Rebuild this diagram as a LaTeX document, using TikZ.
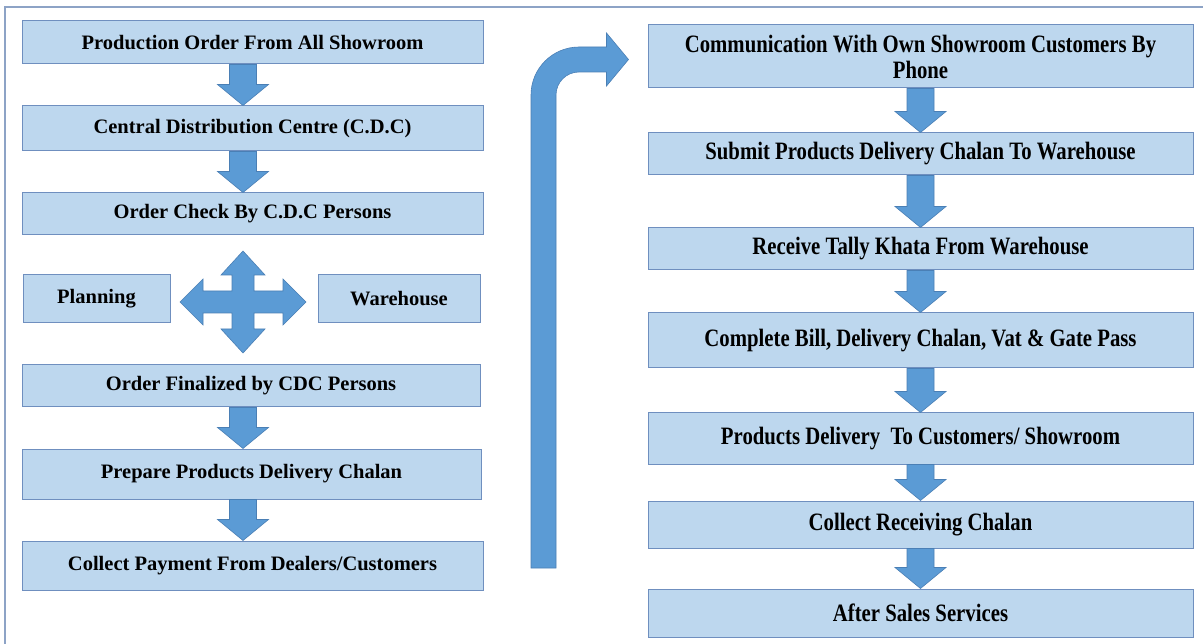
\documentclass[tikz,border=0pt]{standalone}
\usepackage{fontspec}
\setmainfont{Liberation Serif}
\newfontfamily\narrowserif[FakeStretch=0.83]{Liberation Serif}
\usetikzlibrary{calc,positioning}
\definecolor{boxfill}{HTML}{BDD7EE}
\definecolor{boxline}{HTML}{6F8FBF}
\definecolor{arrowfill}{HTML}{5B9BD5}
\definecolor{arrowline}{HTML}{4A7FB5}
\definecolor{framecol}{HTML}{8DA3C6}
\newcommand{\leftfont}{\fontsize{20.5}{24}\selectfont\bfseries}
\newcommand{\rightfont}{\narrowserif\fontsize{25}{26}\selectfont\bfseries}
% block arrow pointing down from #1 to #2
\newcommand{\downblock}[2]{%
  \path[blockarr] let \p1=(#1), \p2=(#2) in
    ({\x1-13.5pt},\y1) -- ({\x1+13.5pt},\y1) -- ({\x1+13.5pt},{\y2+21pt})
    -- ({\x1+25.5pt},{\y2+21pt}) -- (\x1,\y2) -- ({\x1-25.5pt},{\y2+21pt})
    -- ({\x1-13.5pt},{\y2+21pt}) -- cycle;}

\begin{document}
\begin{tikzpicture}[x=1pt,y=-1pt]
  \path[use as bounding box,fill=white] (0,0) rectangle (1203,644);
  \tikzset{
    leftbox/.style={draw=boxline,fill=boxfill,line width=1pt,inner sep=0pt,align=center,font=\leftfont},
    rightbox/.style={draw=boxline,fill=boxfill,line width=1pt,inner sep=0pt,align=center,font=\rightfont,minimum width=545pt},
    blockarr/.style={fill=arrowfill,draw=arrowline,line width=0.6pt,line join=miter}
  }
  % frame
  \draw[framecol,line width=1.5pt] (5,644) -- (5,7) -- (1203,7);

  % left column
  \node[leftbox,minimum width=461pt,minimum height=43pt] (prodorder) at (252.5,42.5) {Production Order From All Showroom};
  \node[leftbox,minimum width=461pt,minimum height=45pt] (cdc) at (252.5,128.5) {Central Distribution Centre (C.D.C)};
  \node[leftbox,minimum width=461pt,minimum height=42pt] (check) at (252.5,214) {Order Check By C.D.C Persons};
  \node[leftbox,minimum width=147pt,minimum height=48pt] (planning) at (96.5,299) {Planning};
  \node[leftbox,minimum width=162pt,minimum height=48pt] (warehouse) at (399,299) {Warehouse};
  \node[leftbox,minimum width=458pt,minimum height=42pt] (finalized) at (251,386) {Order Finalized by CDC Persons};
  \node[leftbox,minimum width=459pt,minimum height=50pt] (prepare) at (251.5,474) {Prepare Products Delivery Chalan};
  \node[leftbox,minimum width=461pt,minimum height=49pt] (payment) at (252.5,565.5) {Collect Payment From Dealers/Customers};
  \coordinate (hub) at (243,302);

  % right column
  \node[rightbox,minimum height=63pt] (comm) at (920.5,56.5) {Communication With Own Showroom Customers By\\Phone};
  \node[rightbox,minimum height=42pt] (submit) at (920.5,154) {Submit Products Delivery Chalan To Warehouse};
  \node[rightbox,minimum height=42pt] (tally) at (920.5,249) {Receive Tally Khata From Warehouse};
  \node[rightbox,minimum height=55pt] (bill) at (920.5,340.5) {Complete Bill, Delivery Chalan, Vat \& Gate Pass};
  \node[rightbox,minimum height=51pt] (delivery) at (920.5,438.5) {Products Delivery\ \ To Customers/ Showroom};
  \node[rightbox,minimum height=47pt] (receiving) at (920.5,524.5) {Collect Receiving Chalan};
  \node[rightbox,minimum height=48pt] (aftersales) at (920.5,613) {After Sales Services};

  % down arrows
  \downblock{prodorder.south -| hub}{cdc.north -| hub}
  \downblock{cdc.south -| hub}{check.north -| hub}
  \downblock{finalized.south -| hub}{prepare.north -| hub}
  \downblock{prepare.south -| hub}{payment.north -| hub}
  \downblock{comm.south}{submit.north}
  \downblock{submit.south}{tally.north}
  \downblock{tally.south}{bill.north}
  \downblock{bill.south}{delivery.north}
  \downblock{delivery.south}{receiving.north}
  \downblock{receiving.south}{aftersales.north}

  % four-way arrow
  \path[blockarr] (hub) ++(-11,-11) -- ++(0,-16) -- ++(-11,0) -- ++(22,-24) -- ++(22,24) -- ++(-11,0)
    -- ++(0,16) -- ++(29,0) -- ++(0,-12) -- ++(23,23) -- ++(-23,23) -- ++(0,-12) -- ++(-29,0)
    -- ++(0,16) -- ++(11,0) -- ++(-22,24) -- ++(-22,-24) -- ++(11,0) -- ++(0,-16)
    -- ++(-29,0) -- ++(0,12) -- ++(-23,-23) -- ++(23,-23) -- ++(0,12) -- cycle;

  % bent arrow up to the right column
  \coordinate (loopfoot) at (543.5,568);
  \coordinate (looptip) at ($(comm.west)+(-19,3)$);
  \path[blockarr] let \p1=(loopfoot), \p2=(looptip) in
    ({\x1-12.5pt},\y1) -- ({\x1-12.5pt},{\y2-35.5pt})
    .. controls ({\x1-12.5pt},{\y2-9pt}) and ({\x1+9pt},{\y2+12.5pt}) .. ({\x1+35.5pt},{\y2+12.5pt})
    -- ({\x2-22pt},{\y2+12.5pt}) -- ({\x2-22pt},{\y2+26.5pt}) -- (\x2,\y2)
    -- ({\x2-22pt},{\y2-26.5pt}) -- ({\x2-22pt},{\y2-12.5pt}) -- ({\x1+35.5pt},{\y2-12.5pt})
    .. controls ({\x1+22.8pt},{\y2-12.5pt}) and ({\x1+12.5pt},{\y2-22.8pt}) .. ({\x1+12.5pt},{\y2-35.5pt})
    -- ({\x1+12.5pt},\y1) -- cycle;
\end{tikzpicture}
\end{document}
